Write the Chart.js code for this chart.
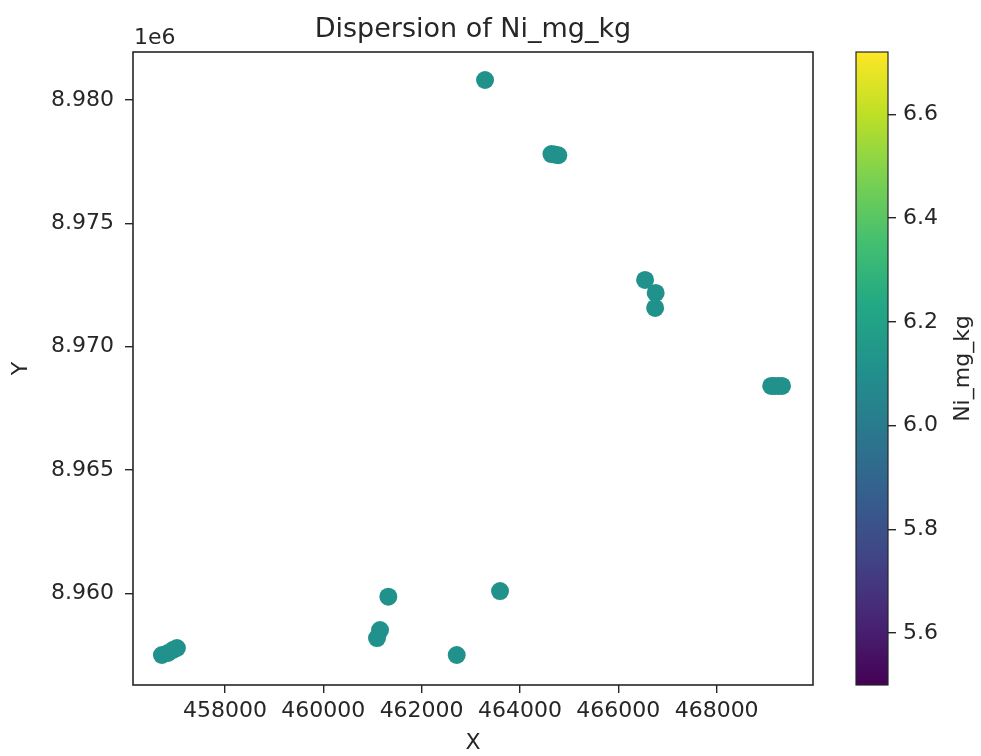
<!DOCTYPE html>
<html>
<head>
<meta charset="utf-8">
<script src="https://cdn.jsdelivr.net/npm/chart.js@4"></script>
<style>
  body { margin: 0; background: #fff; }
  canvas { display: block; }
</style>
</head>
<body>
<canvas id="scatter-chart" width="981" height="756"></canvas>
<script>
// sample locations (UTM metres) and Ni values
var xs = [463290, 464640, 464710, 464780, 466545, 466760, 466749,
          469110, 469180, 469260, 469330, 461323, 463595, 461154,
          461093, 462714, 456718, 456840, 456942, 457023];
var ys = [8980811, 8977810, 8977790, 8977760, 8972703, 8972176, 8971568,
          8968406, 8968406, 8968406, 8968406, 8959862, 8960093, 8958512,
          8958188, 8957499, 8957499, 8957580, 8957702, 8957783];
var ni = [6.11, 6.11, 6.11, 6.11, 6.11, 6.11, 6.11, 6.11, 6.11, 6.11,
          6.11, 6.11, 6.11, 6.11, 6.11, 6.11, 6.11, 6.11, 6.11, 6.11];

var xTicks = [458000, 460000, 462000, 464000, 466000, 468000];
var yTicks = [8960000, 8965000, 8970000, 8975000, 8980000];
var cbTicks = [5.6, 5.8, 6.0, 6.2, 6.4, 6.6];
var cbMin = 5.5, cbMax = 6.72;

var viridis = ['#440154', '#482475', '#414487', '#355f8d', '#2a788e', '#21918c',
               '#22a884', '#44bf70', '#7ad151', '#bddf26', '#fde725'];

function hexRgb(h) {
  return [parseInt(h.substr(1, 2), 16), parseInt(h.substr(3, 2), 16), parseInt(h.substr(5, 2), 16)];
}
function viridisAt(t) {
  t = Math.max(0, Math.min(1, t));
  var p = t * (viridis.length - 1);
  var i = Math.min(Math.floor(p), viridis.length - 2);
  var f = p - i;
  var a = hexRgb(viridis[i]), b = hexRgb(viridis[i + 1]);
  var c = a.map(function (v, k) { return Math.round(v + (b[k] - v) * f); });
  return 'rgb(' + c.join(',') + ')';
}

var points = xs.map(function (x, i) { return {x: x, y: ys[i]}; });
var colors = ni.map(function (v) { return viridisAt((v - cbMin) / (cbMax - cbMin)); });

var font = 'DejaVu Sans';
var ink = '#262626';
var tickSize = 22;

var decorations = {
  id: 'decorations',
  beforeDatasetsDraw: function (chart) {
    var ctx = chart.ctx, a = chart.chartArea, cb = chart.scales.cb;
    // colorbar
    var top = cb.getPixelForValue(cbMax), bottom = cb.getPixelForValue(cbMin);
    var right = cb.left, left = cb.left - 32;
    var grad = ctx.createLinearGradient(0, bottom, 0, top);
    viridis.forEach(function (c, i) { grad.addColorStop(i / (viridis.length - 1), c); });
    ctx.save();
    ctx.fillStyle = grad;
    ctx.fillRect(left, top, right - left, bottom - top);
    ctx.strokeStyle = ink;
    ctx.lineWidth = 1.2;
    ctx.strokeRect(left, top, right - left, bottom - top);
    // texts
    ctx.fillStyle = ink;
    ctx.font = '27px "' + font + '"';
    ctx.textAlign = 'center';
    ctx.textBaseline = 'alphabetic';
    ctx.fillText('Dispersion of Ni_mg_kg', (a.left + a.right) / 2, 37);
    ctx.font = tickSize + 'px "' + font + '"';
    ctx.textAlign = 'left';
    ctx.fillText('1e6', a.left + 1, 44);
    ctx.translate(cb.right - 18, (a.top + a.bottom) / 2);
    ctx.rotate(-Math.PI / 2);
    ctx.textAlign = 'center';
    ctx.textBaseline = 'middle';
    ctx.fillText('Ni_mg_kg', 0, 0);
    ctx.restore();
  },
  afterDraw: function (chart) {
    var ctx = chart.ctx, a = chart.chartArea;
    ctx.save();
    ctx.strokeStyle = ink;
    ctx.lineWidth = 1.6;
    ctx.strokeRect(a.left, a.top, a.right - a.left, a.bottom - a.top);
    ctx.restore();
  }
};

function fixTicks(arr) {
  return function (scale) {
    scale.ticks = arr.map(function (v) { return {value: v}; });
  };
}

var tickGrid = {drawOnChartArea: false, drawTicks: true, tickLength: 8, color: ink, lineWidth: 1.4};

var scatterChart = new Chart(document.getElementById('scatter-chart'), {
  type: 'scatter',
  data: {
    datasets: [{
      label: 'Ni_mg_kg',
      data: points,
      pointRadius: 9,
      pointHoverRadius: 9,
      pointBorderWidth: 0,
      pointBackgroundColor: colors,
      pointBorderColor: colors
    }]
  },
  options: {
    responsive: false,
    animation: false,
    devicePixelRatio: 1,
    layout: {padding: {top: 52, left: 0, right: 0, bottom: 0}},
    plugins: {legend: {display: false}, tooltip: {enabled: false}, title: {display: false}},
    scales: {
      x: {
        type: 'linear',
        position: 'bottom',
        min: 456130,
        max: 469960,
        afterBuildTicks: fixTicks(xTicks),
        afterFit: function (s) { s.height = 71; },
        grid: tickGrid,
        border: {display: false},
        ticks: {
          color: ink, font: {family: font, size: tickSize}, padding: 5, maxRotation: 0,
          callback: function (v) { return String(v); }
        },
        title: {display: true, text: 'X', color: ink, font: {family: font, size: tickSize}, padding: {top: 0, bottom: 0}}
      },
      y: {
        type: 'linear',
        position: 'left',
        min: 8956283,
        max: 8981946,
        afterBuildTicks: fixTicks(yTicks),
        afterFit: function (s) { s.width = 133; },
        grid: tickGrid,
        border: {display: false},
        ticks: {
          color: ink, font: {family: font, size: tickSize}, padding: 11,
          callback: function (v) { return (v / 1e6).toFixed(3); }
        },
        title: {display: true, text: 'Y', color: ink, font: {family: font, size: tickSize}, padding: {top: 8, bottom: 0}}
      },
      gap: {
        type: 'linear',
        position: 'right',
        weight: 0,
        min: 0,
        max: 1,
        afterFit: function (s) { s.width = 75; },
        grid: {display: false},
        border: {display: false},
        ticks: {display: false}
      },
      cb: {
        type: 'linear',
        position: 'right',
        weight: 1,
        min: cbMin,
        max: cbMax,
        afterBuildTicks: fixTicks(cbTicks),
        afterFit: function (s) { s.width = 93; },
        grid: tickGrid,
        border: {display: false},
        ticks: {
          color: ink, font: {family: font, size: tickSize}, padding: 7,
          callback: function (v) { return v.toFixed(1); }
        }
      }
    }
  },
  plugins: [decorations]
});
</script>
</body>
</html>
